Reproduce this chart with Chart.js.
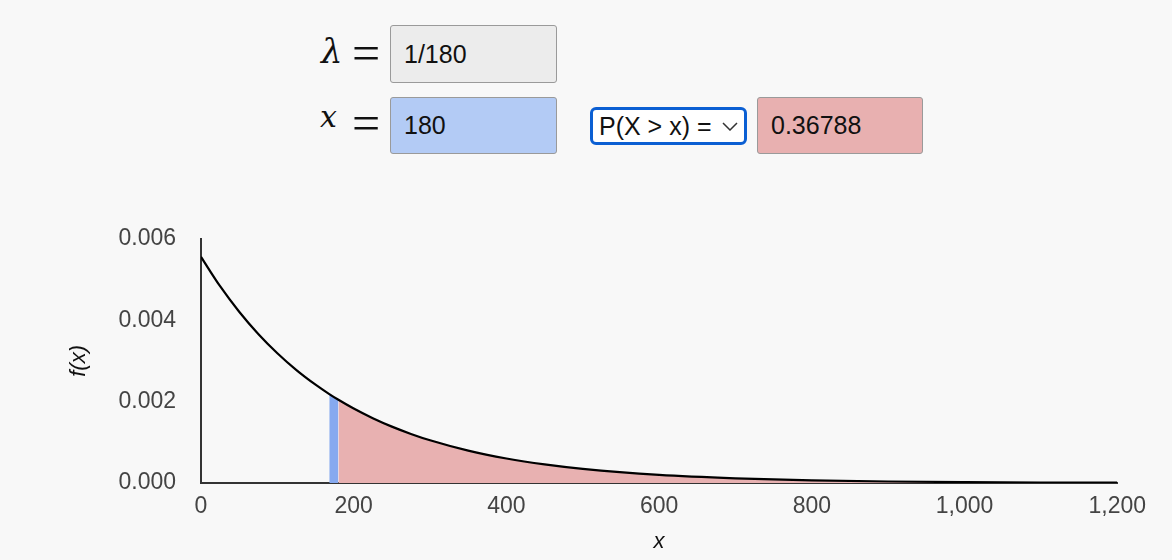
<!DOCTYPE html>
<html>
<head>
<meta charset="utf-8">
<script src="https://cdn.jsdelivr.net/npm/chart.js@4/dist/chart.umd.min.js"></script>
<style>
    body { margin: 0; background: #f8f8f8; font-family: "Liberation Sans", Arial, sans-serif; }
    .wrap { position: relative; width: 1172px; height: 560px; overflow: hidden; }
    .sym { position: absolute; font-family: "DejaVu Serif", serif; font-style: italic; line-height: 1; color: #111; }
    .eq { position: absolute; font-family: "Liberation Serif", serif; font-size: 50px; line-height: 1; color: #111; }
    .box { position: absolute; box-sizing: border-box; border: 1.5px solid #9a9a9a; border-radius: 3px;
        font-size: 25px; color: #111; padding-left: 13px; display: flex; align-items: center; }
    .sel { position: absolute; box-sizing: border-box; border: 3px solid #0b5fd3; border-radius: 6px;
        background: #fff; font-size: 25px; color: #111; padding-left: 6px; display: flex; align-items: center; }
    #chart-box { position: absolute; left: 50px; top: 200px; width: 1106px; height: 360px; }
</style>
</head>
<body>
<div class="wrap">
    <span class="sym" style="left:321px; top:34px; font-size:34px;">λ</span>
    <span class="eq" style="left:352px; top:28px;">=</span>
    <div class="box" style="left:390px; top:25px; width:167px; height:58px; background:#ececec;">1/180</div>

    <span class="sym" style="left:320px; top:102px; font-size:30px;">x</span>
    <span class="eq" style="left:352px; top:98px;">=</span>
    <div class="box" style="left:390px; top:97px; width:167px; height:57px; background:#b3cbf5;">180</div>

    <div class="sel" style="left:590px; top:107px; width:157px; height:38px;">P(X &gt; x) =
        <svg width="16" height="9" style="margin-left:10px"><polyline points="1,1 8,8 15,1" fill="none" stroke="#333" stroke-width="1.5"/></svg>
    </div>
    <div class="box" style="left:757px; top:97px; width:166px; height:57px; background:#e8b0b0;">0.36788</div>

    <div id="chart-box"><canvas id="chart-canvas"></canvas></div>
</div>
<script>
// exponential density, lambda = 1/180
var xs = [0, 25, 50, 75, 100, 125, 150, 168, 180, 200, 225, 250, 275, 300, 350, 400, 450, 500, 600, 700, 800, 900, 1000, 1100, 1200];
var density = [0.005556, 0.004835, 0.004208, 0.003662, 0.003188, 0.002774, 0.002415, 0.002185, 0.002044, 0.001829,
    0.001592, 0.001385, 0.001206, 0.001049, 0.000795, 0.000602, 0.000456, 0.000346, 0.000198, 0.000114,
    0.0000652, 0.0000374, 0.0000215, 0.0000123, 0.0000071];
var xValue = 180;      // selected x
var markStart = 168;   // left edge of the blue marker band

var yTicks = [0, 0.002, 0.004, 0.006];
var xTicks = [0, 200, 400, 600, 800, 1000, 1200];

var curve = xs.map((x, i) => ({ x: x, y: density[i] }));
var tail = curve.filter(p => p.x >= xValue);
var marker = curve.filter(p => p.x >= markStart && p.x <= xValue);

var fam = '"Liberation Sans", Arial, sans-serif';
var tickFont = { family: fam, size: 23 };
var titleFont = { family: fam, size: 22, style: 'italic' };

var ctx = document.getElementById('chart-canvas');
var myChart = new Chart(ctx, {
    type: 'line',
    data: {
        datasets: [{
            data: curve,
            borderColor: '#000',
            borderWidth: 2.2,
            pointRadius: 0,
            cubicInterpolationMode: 'monotone',
            fill: false,
        }, {
            data: tail,
            borderWidth: 0,
            pointRadius: 0,
            cubicInterpolationMode: 'monotone',
            backgroundColor: '#e8b1b1',
            fill: 'origin',
        }, {
            data: marker,
            borderWidth: 0,
            pointRadius: 0,
            backgroundColor: '#86a9ef',
            fill: 'origin',
        }]
    },
    options: {
        responsive: true,
        maintainAspectRatio: false,
        animation: false,
        layout: { padding: 0 },
        plugins: {
            legend: { display: false },
            tooltip: { enabled: false },
        },
        scales: {
            x: {
                type: 'linear',
                min: 0,
                max: 1200,
                grid: { display: false, drawTicks: false },
                border: { color: '#333', width: 2 },
                afterBuildTicks: s => { s.ticks = xTicks.map(v => ({ value: v })) },
                afterFit: s => { s.height = 77 },
                ticks: { color: '#444', font: tickFont, padding: 10, maxRotation: 0 },
                title: { display: true, text: 'x', color: '#111', font: titleFont, padding: { top: 4, bottom: 5 } }
            },
            y: {
                min: 0,
                max: 0.006,
                grid: { display: false, drawTicks: false },
                border: { color: '#333', width: 2 },
                afterBuildTicks: s => { s.ticks = yTicks.map(v => ({ value: v })) },
                afterFit: s => { s.width = 151 },
                ticks: { color: '#444', font: tickFont, padding: 25, callback: v => v.toFixed(3) },
                title: { display: true, text: 'f(x)', color: '#111', font: titleFont, padding: { top: 16, bottom: 0 } }
            }
        }
    }
});
</script>
</body>
</html>
